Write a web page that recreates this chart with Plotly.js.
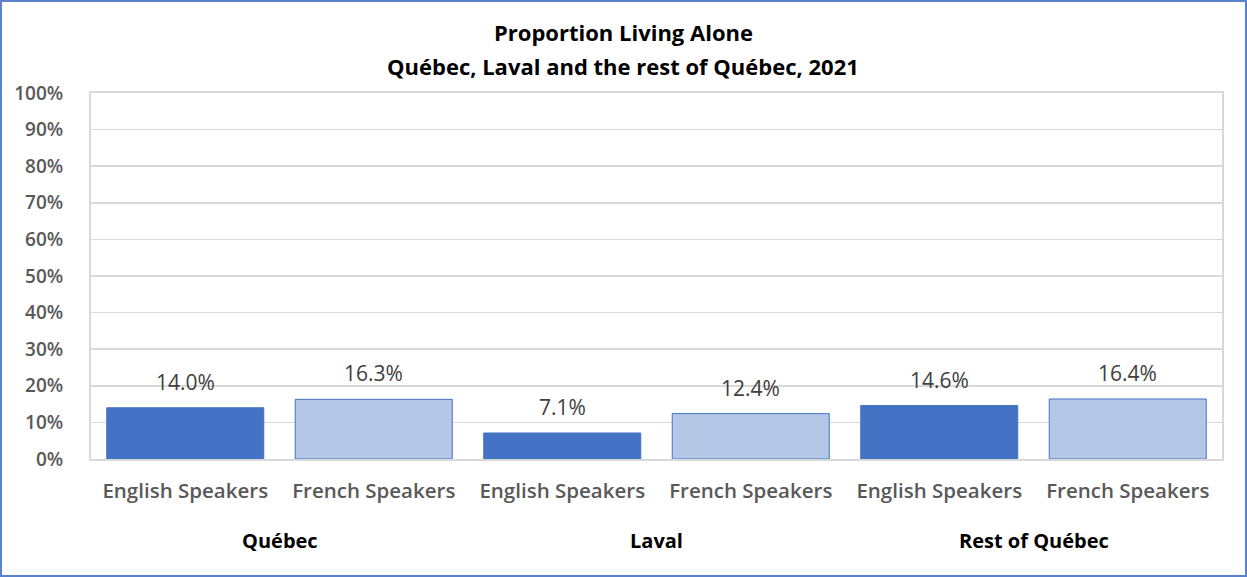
<!DOCTYPE html>
<html><head><meta charset="utf-8">
<script src="https://cdn.plot.ly/plotly-3.0.1.min.js"></script>
<style>
html,body{margin:0;padding:0;background:#fff;}
#wrap{position:relative;width:1247px;height:577px;}
#chart{position:absolute;left:0;top:0;width:1247px;height:577px;}
#frame{position:absolute;left:0;top:0;width:1243px;height:573px;border:2px solid #5B82CD;pointer-events:none;}
</style>
</head><body>
<div id="wrap"><div id="chart"></div><div id="frame"></div></div>
<script>
const titleLines = ["Proportion Living Alone", "Québec, Laval and the rest of Québec, 2021"];
const regions = ["Québec", "Laval", "Rest of Québec"];
const speakerGroups = ["English Speakers", "French Speakers"];
const english = [0.140, 0.071, 0.146];
const french = [0.163, 0.124, 0.164];
const labels = [];
const values = [];
const colors = [];
const xs = [];
regions.forEach((r, i) => {
  [english[i], french[i]].forEach((v, j) => {
    xs.push(i * 2 + j);
    labels.push(speakerGroups[j]);
    values.push(v);
    colors.push(j === 0 ? "#4472C4" : "#B4C7E7");
  });
});
const font = "Open Sans, Liberation Sans, sans-serif";
const trace = {
  type: "bar", x: xs, y: values,
  marker: {color: colors, line: {color: "#4472C4", width: 1}},
  hoverinfo: "none"
};
const annotations = [];
regions.forEach((r, i) => annotations.push({
  x: i * 2 + 0.5, y: 0, xref: "x", yref: "paper",
  yshift: -81, yanchor: "middle", text: "<b>" + r + "</b>", showarrow: false,
  font: {family: font, size: 20, color: "#000"}
}));
values.forEach((v, k) => annotations.push({
  x: xs[k], y: v, xref: "x", yref: "y", yanchor: "middle", yshift: 26,
  text: (v * 100).toFixed(1) + "%", showarrow: false,
  font: {family: font, size: 21, color: "#404040"}
}));
titleLines.forEach((t, k) => annotations.push({
  x: 0.4705, xref: "paper", y: k === 0 ? 1.1667 : 1.0738, yref: "paper",
  xanchor: "center", yanchor: "middle", showarrow: false,
  text: "<b>" + t + "</b>", font: {family: font, size: 22, color: "#000"}
}));
const layout = {
  width: 1247, height: 577,
  margin: {l: 91, r: 25, t: 93, b: 118},
  paper_bgcolor: "#fff", plot_bgcolor: "#fff",
  showlegend: false,
  bargap: 0.167,
  xaxis: {range: [-0.5, 5.5], tickvals: xs, ticktext: labels, showgrid: false,
    zeroline: false, showline: true, linecolor: "#D9D9D9", linewidth: 2, mirror: true,
    ticks: "", ticklabelstandoff: 12,
    tickfont: {family: font, size: 20.5, color: "#595959", weight: 600}},
  yaxis: {range: [0, 1], dtick: 0.1, tickformat: ".0%", showgrid: true, gridcolor: "#D9D9D9",
    gridwidth: 1.5, zeroline: false, showline: true, linecolor: "#D9D9D9", linewidth: 2, mirror: true,
    ticks: "", ticklabelstandoff: 22,
    tickfont: {family: font, size: 19, color: "#595959", weight: 600}},
  annotations: annotations
};
Plotly.newPlot("chart", [trace], layout, {displayModeBar: false, staticPlot: true});
</script>
</body></html>
